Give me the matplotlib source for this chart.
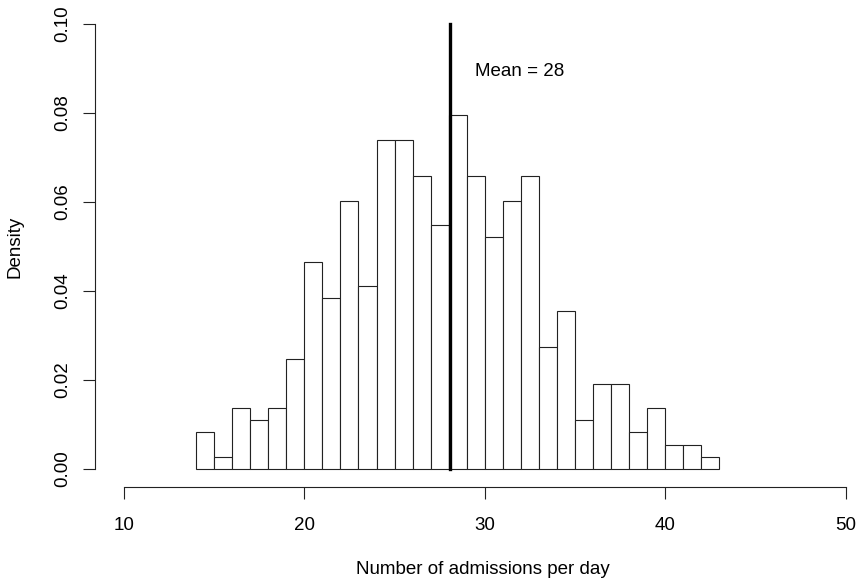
import matplotlib
matplotlib.use('Agg')
import matplotlib.pyplot as plt
import numpy as np

plt.rcParams['font.family'] = ['Liberation Sans', 'DejaVu Sans']

# daily admissions: count of days per unit bin (14,15], (15,16], ... (42,43]
bin_edges = list(range(14, 44))
day_counts = [3, 1, 5, 4, 5, 9, 17, 14, 22, 15, 27, 27, 24, 20, 29,
              24, 19, 22, 24, 10, 13, 4, 7, 7, 3, 5, 2, 2, 1]
x_ticks = [10, 20, 30, 40, 50]
y_ticks = [0.00, 0.02, 0.04, 0.06, 0.08, 0.10]

edges = np.array(bin_edges)
counts = np.array(day_counts)
values = edges[1:]  # integer admissions fall on the right edge of each bin
mean_val = np.sum(values * counts) / counts.sum()

W, H = 857, 580
fig = plt.figure(figsize=(W / 100, H / 100), dpi=100)
ax = fig.add_axes([95.0 / W, 1 - 486.8 / H, (874.6 - 95.0) / W, (486.8 - 6.2) / H])

ax.hist(edges[:-1], bins=edges, weights=counts, density=True,
        facecolor='white', edgecolor='#222222', linewidth=0.8)
ax.plot([mean_val, mean_val], [0, 0.1], color='black', linewidth=2.4)
ax.text(29.43, 0.0893, 'Mean = %d' % round(mean_val), fontsize=13.5,
        ha='left', va='center')

ax.set_xlim(8.4, 51.6)
ax.set_ylim(-0.004, 0.104)

for s in ['top', 'right']:
    ax.spines[s].set_visible(False)
ax.spines['bottom'].set_bounds(10, 50)
ax.spines['left'].set_bounds(0, 0.1)
for s in ['bottom', 'left']:
    ax.spines[s].set_linewidth(0.8)
    ax.spines[s].set_color('#222222')

ax.set_xticks(x_ticks)
ax.set_xticklabels([str(v) for v in x_ticks])
ax.set_yticks(y_ticks)
ax.set_yticklabels(['%.2f' % v for v in y_ticks], rotation=90, va='center')
ax.tick_params(axis='both', direction='out', length=8.4, width=0.8,
               color='#222222', labelsize=13.5)
ax.tick_params(axis='x', pad=13)
ax.tick_params(axis='y', pad=9)

fig.text(482.5 / W, 1 - 570 / H, 'Number of admissions per day', fontsize=13.5,
         ha='center', va='center')
fig.text(15 / W, 1 - 246.5 / H, 'Density', fontsize=13.5, rotation=90,
         ha='center', va='center')

fig.savefig('out.png', dpi=100)
